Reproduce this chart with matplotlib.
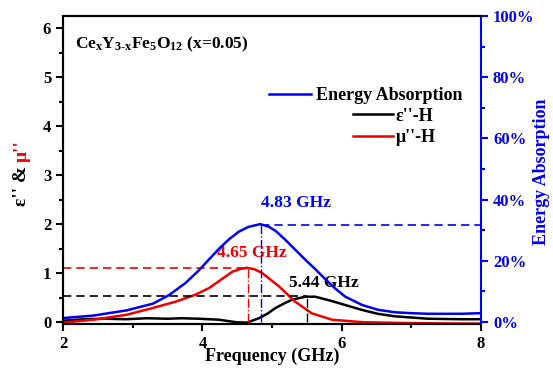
import matplotlib
matplotlib.use('Agg')
import matplotlib.pyplot as plt

# frequency (GHz) and values
f_eps = [2.0, 2.3, 2.6, 2.9, 3.2, 3.5, 3.7, 3.95, 4.24, 4.48, 4.64, 4.81, 4.93, 5.05, 5.17,
         5.29, 5.48, 5.62, 5.86, 6.05, 6.29, 6.52, 6.76, 7.24, 7.71, 8.0]
eps = [0.03, 0.06, 0.07, 0.06, 0.08, 0.07, 0.08, 0.07, 0.05, 0.0, -0.01, 0.08, 0.17, 0.29,
       0.38, 0.46, 0.52, 0.52, 0.43, 0.35, 0.25, 0.17, 0.12, 0.07, 0.06, 0.06]

f_mu = [2.0, 2.43, 2.91, 3.29, 3.62, 3.9, 4.1, 4.24, 4.43, 4.55, 4.64, 4.75, 4.86, 5.1,
        5.33, 5.57, 5.86, 6.3, 7.0, 8.0]
mu = [-0.01, 0.05, 0.15, 0.29, 0.42, 0.56, 0.70, 0.84, 1.03, 1.09, 1.11, 1.08, 1.0, 0.73,
      0.42, 0.18, 0.05, 0.0, -0.02, -0.03]

f_abs = [2.0, 2.43, 2.91, 3.29, 3.52, 3.76, 3.95, 4.1, 4.24, 4.38, 4.52, 4.66, 4.83, 4.95,
         5.05, 5.19, 5.33, 5.48, 5.62, 5.76, 5.9, 6.05, 6.29, 6.52, 6.76, 7.0, 7.24, 7.71, 8.0]
absorption = [1.3, 2.1, 3.8, 6.0, 8.8, 12.8, 16.9, 20.6, 24.0, 27.0, 29.5, 31.1, 32.0, 31.2,
              29.8, 26.9, 23.7, 20.3, 17.3, 14.1, 11.1, 8.3, 5.6, 4.0, 3.2, 2.9, 2.7, 2.7, 2.9]

# peaks: (frequency of marker line, level, label)
eps_peak = (5.5, 0.535, '5.44 GHz')
mu_peak = (4.65, 1.115, '4.65 GHz')
abs_peak = (4.84, 31.6, '4.83 GHz')

plt.rcParams['font.family'] = ['Liberation Serif', 'DejaVu Serif']
plt.rcParams['font.weight'] = 'bold'
plt.rcParams['mathtext.fontset'] = 'custom'
plt.rcParams['mathtext.rm'] = 'Liberation Serif:bold'
plt.rcParams['mathtext.it'] = 'Liberation Serif:bold'
plt.rcParams['mathtext.bf'] = 'Liberation Serif:bold'

fig = plt.figure(figsize=(5.53, 3.74), dpi=100)
ax = fig.add_axes([0.114, 0.134, 0.756, 0.823])
ax2 = ax.twinx()

blue = '#0000ee'
red = '#ee0000'

ax.set_xlim(2, 8)
ax.set_ylim(-0.035, 6.25)
ax2.set_ylim(-0.6, 100)

l_eps, = ax.plot(f_eps, eps, color='black', lw=1.8, label="ε''-H")
l_mu, = ax.plot(f_mu, mu, color=red, lw=1.8, label="μ''-H")
l_abs, = ax2.plot(f_abs, absorption, color=blue, lw=1.8, label='Energy Absorption')

# guide lines
ax.plot([2, eps_peak[0]], [eps_peak[1]] * 2, color='black', ls=(0, (5, 3)), lw=1.2)
ax.plot([eps_peak[0]] * 2, [0, eps_peak[1]], color='black', ls='-.', lw=1.0)
ax.plot([2, mu_peak[0]], [mu_peak[1]] * 2, color=red, ls=(0, (5, 3)), lw=1.2)
ax.plot([mu_peak[0]] * 2, [0, mu_peak[1]], color=red, ls='-.', lw=1.0)
ax2.plot([abs_peak[0], 8], [abs_peak[1]] * 2, color=blue, ls=(0, (5, 3)), lw=1.2)
ax2.plot([abs_peak[0]] * 2, [0, abs_peak[1]], color=blue, ls='-.', lw=1.0)

ax.text(5.35, 2.43, abs_peak[2], color=blue, fontsize=12.5, ha='center', va='center')
ax.text(4.71, 1.41, mu_peak[2], color=red, fontsize=12.5, ha='center', va='center')
ax.text(5.75, 0.80, eps_peak[2], color='black', fontsize=12.5, ha='center', va='center')

ax.text(2.17, 5.68, r'$\mathrm{Ce_xY_{3\text{-}x}Fe_5O_{12}}$ (x=0.05)', fontsize=12.5,
        ha='left', va='center')

ax.set_xticks([2, 4, 6, 8])
ax.set_xticks([3, 5, 7], minor=True)
ax.set_yticks(range(0, 7))
ax.set_yticks([0.5, 1.5, 2.5, 3.5, 4.5, 5.5], minor=True)
ax2.set_yticks(range(0, 101, 20))
ax2.set_yticks(range(10, 100, 20), minor=True)
ax2.set_yticklabels([f'{v}%' for v in range(0, 101, 20)])

ax.tick_params(axis='both', which='major', direction='out', length=5, width=1.5, labelsize=12)
ax.tick_params(axis='both', which='minor', direction='out', length=3, width=1.5)
ax.tick_params(top=False, right=False)
ax2.tick_params(axis='y', which='major', direction='out', length=5, width=1.5,
                labelsize=12, colors=blue)
ax2.tick_params(axis='y', which='minor', direction='out', length=3, width=1.5, colors=blue)

for s in ['left', 'bottom', 'top']:
    ax.spines[s].set_linewidth(1.5)
    ax2.spines[s].set_linewidth(1.5)
ax2.spines['right'].set_linewidth(1.5)
ax2.spines['right'].set_color(blue)
ax.spines['right'].set_visible(False)

fig.text(272 / 553, 1 - 356 / 374, 'Frequency (GHz)', fontsize=13, ha='center', va='center')
fig.text(541 / 553, 1 - 172 / 374, 'Energy Absorption', fontsize=13, color=blue,
         rotation=90, ha='center', va='center')

# two-colour y label
fig.canvas.draw()
r = fig.canvas.get_renderer()
t1 = fig.text(22 / 553, 1 - 206 / 374, "ε'' &", rotation=90, ha='center', va='bottom',
              fontsize=14)
bb = t1.get_window_extent(r)
fig.text(22 / 553, (bb.y1 + 4) / fig.bbox.height, "μ''", rotation=90, ha='center',
         va='bottom', fontsize=14, color=red)

leg1 = ax2.legend(handles=[l_abs], loc='center right', frameon=False, fontsize=13,
                  bbox_to_anchor=(462 / 553, 1 - 96 / 374), bbox_transform=fig.transFigure,
                  borderpad=0, borderaxespad=0, handlelength=2.3, handletextpad=0.25)
leg2 = ax2.legend(handles=[l_eps, l_mu], loc='center right', frameon=False, fontsize=13,
                  bbox_to_anchor=(436 / 553, 1 - 127 / 374), bbox_transform=fig.transFigure,
                  borderpad=0, borderaxespad=0, handlelength=2.2, handletextpad=0.15,
                  labelspacing=0.25)
ax2.add_artist(leg1)

fig.savefig('out.png', dpi=100)
